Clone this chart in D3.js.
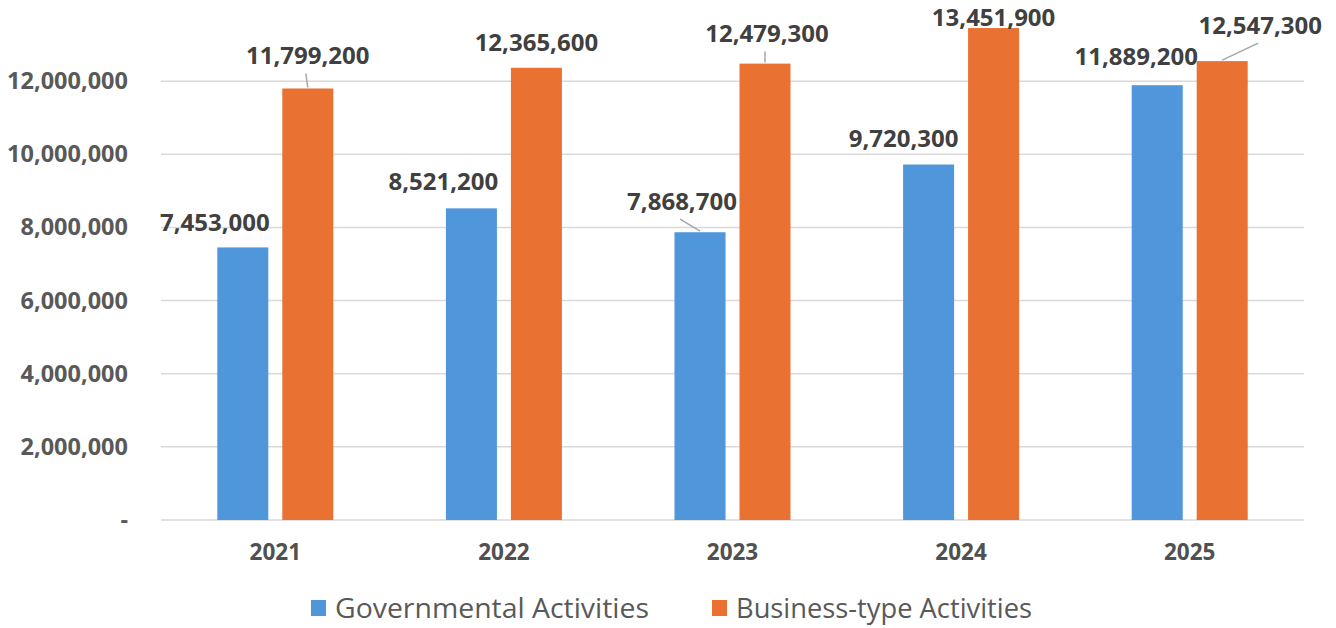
<!DOCTYPE html>
<html>
<head>
<meta charset="utf-8">
<script src="https://cdn.jsdelivr.net/npm/d3@7"></script>
<style>
  html, body { margin: 0; padding: 0; background: #fff; }
  svg { display: block; font-family: "Open Sans", sans-serif; }
</style>
</head>
<body>
<svg id="chart" width="1336" height="628"></svg>
<script>
// data
const years = ["2021", "2022", "2023", "2024", "2025"];
const governmental = [7453000, 8521200, 7868700, 9720300, 11889200];
const businessType = [11799200, 12365600, 12479300, 13451900, 12547300];
const seriesNames = ["Governmental Activities", "Business-type Activities"];
const seriesColors = ["#4F96DA", "#E97132"];
const yTicks = [0, 2000000, 4000000, 6000000, 8000000, 10000000, 12000000];

// hand placed data labels (Excel moved some of them): [dx, rise above bar top, leader line?]
const labelNudge = [
  [[-28, 25, false], [-28, 27, false], [-18, 31, true], [-25, 26, false], [-21, 29, false]],
  [[0, 33, true], [0, 25, false], [2, 30, true], [0, 11, false], [38, 36, true]]
];

const svg = d3.select("#chart");
const margin = { top: 8, right: 32, bottom: 108, left: 161 };
const width = 1336 - margin.left - margin.right;
const height = 628 - margin.top - margin.bottom;

const g = svg.append("g")
    .attr("transform", `translate(${margin.left},${margin.top})`);

const x0 = d3.scaleBand()
    .domain(years)
    .range([0, width]);

// two bars of ~51px with a 14px gap, centred in each year band
const x1 = d3.scaleBand()
    .domain(seriesNames)
    .range([x0.bandwidth() / 2 - 58, x0.bandwidth() / 2 + 58])
    .paddingInner(0.215);

const y = d3.scaleLinear()
    .domain([0, 14000000])
    .range([height, 0]);

const fmt = d3.format(",");

// gridlines
g.append("g")
  .selectAll("line")
  .data(yTicks)
  .enter().append("line")
    .attr("x1", 0)
    .attr("x2", width)
    .attr("y1", d => y(d))
    .attr("y2", d => y(d))
    .attr("stroke", "#D9D9D9")
    .attr("stroke-width", 1.5);

// y axis labels
const yAxis = g.append("g")
    .call(d3.axisLeft(y).tickValues(yTicks).tickSize(0).tickPadding(33)
      .tickFormat(d => d === 0 ? "-" : fmt(d)));
yAxis.select(".domain").remove();
yAxis.selectAll("text")
    .attr("font-family", "Open Sans")
    .attr("font-size", 23.5)
    .attr("font-weight", "bold")
    .attr("fill", "#595959");

// x axis labels
const xAxis = g.append("g")
    .attr("transform", `translate(0,${height})`)
    .call(d3.axisBottom(x0).tickSize(0).tickPadding(24));
xAxis.select(".domain").remove();
xAxis.selectAll("text")
    .attr("font-family", "Open Sans")
    .attr("font-size", 22.5)
    .attr("font-weight", "bold")
    .attr("fill", "#505050");

const rows = years.map((yr, i) => ({
  year: yr,
  values: [governmental[i], businessType[i]].map((v, s) => ({
    year: yr, name: seriesNames[s], s: s, i: i, value: v
  }))
}));

const groups = g.selectAll(".year")
  .data(rows)
  .enter().append("g")
    .attr("class", "year")
    .attr("transform", d => `translate(${x0(d.year)},0)`);

groups.selectAll("rect")
  .data(d => d.values)
  .enter().append("rect")
    .attr("x", d => x1(d.name))
    .attr("y", d => y(d.value))
    .attr("width", x1.bandwidth())
    .attr("height", d => y(0) - y(d.value))
    .attr("fill", d => seriesColors[d.s]);

// leader lines
groups.selectAll(".leader")
  .data(d => d.values.filter(v => labelNudge[v.s][v.i][2]))
  .enter().append("line")
    .attr("class", "leader")
    .attr("x1", d => x1(d.name) + x1.bandwidth() / 2 + labelNudge[d.s][d.i][0] - 2)
    .attr("y1", d => y(d.value) - labelNudge[d.s][d.i][1] + 18)
    .attr("x2", d => x1(d.name) + x1.bandwidth() / 2)
    .attr("y2", d => y(d.value) - 1)
    .attr("stroke", "#A6A6A6")
    .attr("stroke-width", 1.5);

// data labels
groups.selectAll(".lbl")
  .data(d => d.values)
  .enter().append("text")
    .attr("class", "lbl")
    .attr("x", d => x1(d.name) + x1.bandwidth() / 2 + labelNudge[d.s][d.i][0])
    .attr("y", d => y(d.value) - labelNudge[d.s][d.i][1])
    .attr("dy", "0.36em")
    .attr("text-anchor", "middle")
    .attr("font-size", 24)
    .attr("font-weight", "bold")
    .attr("fill", "#404040")
    .text(d => fmt(d.value));

// legend
const legendX = [311, 712];
const legendW = [314, 296];
const legend = svg.append("g")
  .selectAll("g")
  .data(seriesNames)
  .enter().append("g")
    .attr("transform", (d, i) => `translate(${legendX[i]},608)`);

legend.append("rect")
    .attr("x", 0)
    .attr("y", -8)
    .attr("width", 15)
    .attr("height", 16)
    .attr("fill", (d, i) => seriesColors[i]);

legend.append("text")
    .attr("x", 24)
    .attr("dy", "0.36em")
    .attr("font-size", 27)
    .attr("fill", "#595959")
    .attr("textLength", (d, i) => legendW[i])
    .attr("lengthAdjust", "spacingAndGlyphs")
    .text(d => d);
</script>
</body>
</html>
